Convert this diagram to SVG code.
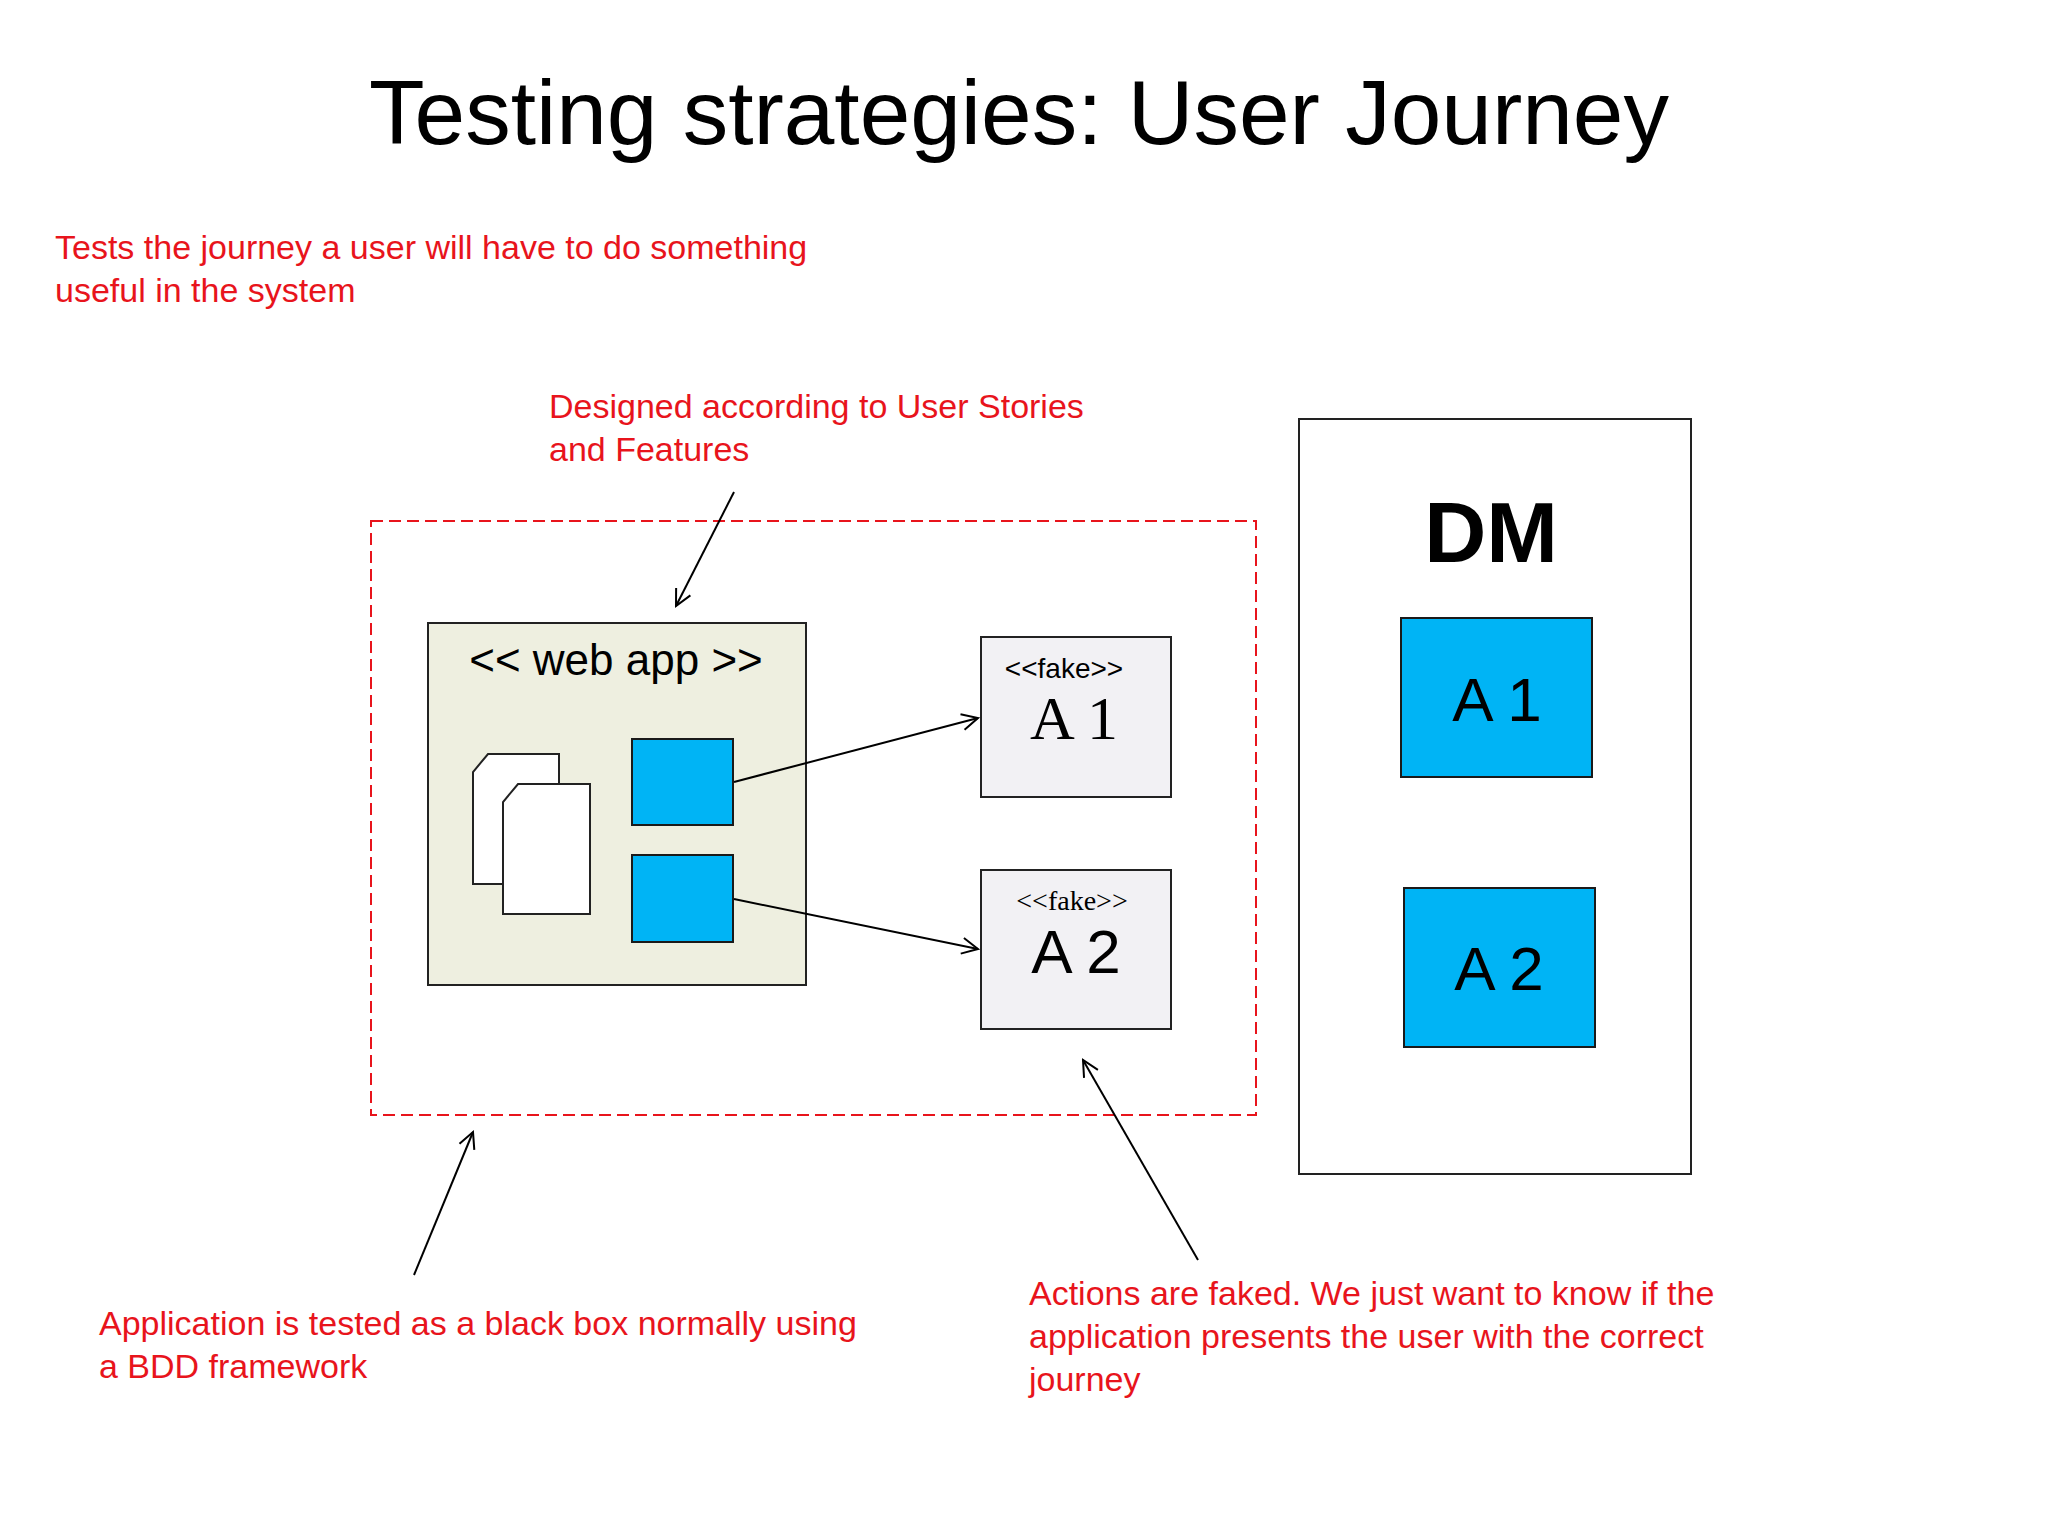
<svg xmlns="http://www.w3.org/2000/svg" width="2048" height="1536" viewBox="0 0 2048 1536">
<style>
.r{fill:#e8141c;font-family:"Liberation Sans",Arial,sans-serif;font-size:34px}
.s{font-family:"Liberation Sans",Arial,sans-serif}
.f{font-family:"Liberation Serif","Times New Roman",serif}
.b{fill:#00b4f5;stroke:#1a1a1a;stroke-width:2}
.c{stroke:#000;stroke-width:2;fill:none;marker-end:url(#a)}
</style>
<defs><marker id="a" viewBox="0 0 20 20" refX="18" refY="10" markerWidth="20" markerHeight="20" markerUnits="userSpaceOnUse" orient="auto"><path d="M2,2 L18,10 L2,18" fill="none" stroke="#000" stroke-width="2"/></marker></defs>
<rect width="2048" height="1536" fill="#fff"/>
<text x="1019" y="144" text-anchor="middle" class="s" font-size="91">Testing strategies: User Journey</text>
<text class="r" x="55" y="259">Tests the journey a user will have to do something</text>
<text class="r" x="55" y="302">useful in the system</text>
<text class="r" x="549" y="418">Designed according to User Stories</text>
<text class="r" x="549" y="461">and Features</text>
<rect id="boundary" x="371" y="521" width="885" height="594" fill="none" stroke="#e8141c" stroke-width="2" stroke-dasharray="12,6"/>
<g id="webapp">
<rect x="428" y="623" width="378" height="362" fill="#eeefe0" stroke="#222" stroke-width="2"/>
<text x="616" y="675" text-anchor="middle" class="s" font-size="44">&lt;&lt; web app &gt;&gt;</text>
<path d="M488,754 H559 V884 H473 V772 Z" fill="#fff" stroke="#222" stroke-width="2"/>
<path d="M518,784 H590 V914 H503 V802 Z" fill="#fff" stroke="#222" stroke-width="2"/>
<rect class="b" x="632" y="739" width="101" height="86"/>
<rect class="b" x="632" y="855" width="101" height="87"/>
</g>
<g id="fake1">
<rect x="981" y="637" width="190" height="160" fill="#f2f1f4" stroke="#222" stroke-width="2"/>
<text x="1064" y="678" text-anchor="middle" class="s" font-size="28">&lt;&lt;fake&gt;&gt;</text>
<text x="1074" y="739" text-anchor="middle" class="f" font-size="62">A 1</text>
</g>
<g id="fake2">
<rect x="981" y="870" width="190" height="159" fill="#f2f1f4" stroke="#222" stroke-width="2"/>
<text x="1072" y="910" text-anchor="middle" class="f" font-size="28">&lt;&lt;fake&gt;&gt;</text>
<text x="1076" y="973" text-anchor="middle" class="s" font-size="62">A 2</text>
</g>
<g id="dm">
<rect x="1299" y="419" width="392" height="755" fill="#fff" stroke="#222" stroke-width="2"/>
<text x="1491" y="562" text-anchor="middle" class="s" font-weight="bold" font-size="86">DM</text>
<rect class="b" x="1401" y="618" width="191" height="159"/>
<text x="1497" y="721" text-anchor="middle" class="s" font-size="62">A 1</text>
<rect class="b" x="1404" y="888" width="191" height="159"/>
<text x="1499" y="990" text-anchor="middle" class="s" font-size="62">A 2</text>
</g>
<g id="connectors">
<line class="c" x1="734" y1="492" x2="676" y2="606"/>
<line class="c" x1="734" y1="782" x2="978" y2="718"/>
<line class="c" x1="734" y1="899" x2="978" y2="949"/>
<line class="c" x1="414" y1="1275" x2="473" y2="1132"/>
<line class="c" x1="1198" y1="1260" x2="1083" y2="1060"/>
</g>
<text class="r" x="99" y="1335">Application is tested as a black box normally using</text>
<text class="r" x="99" y="1378">a BDD framework</text>
<text class="r" x="1029" y="1305">Actions are faked. We just want to know if the</text>
<text class="r" x="1029" y="1348">application presents the user with the correct</text>
<text class="r" x="1029" y="1391">journey</text>
</svg>
